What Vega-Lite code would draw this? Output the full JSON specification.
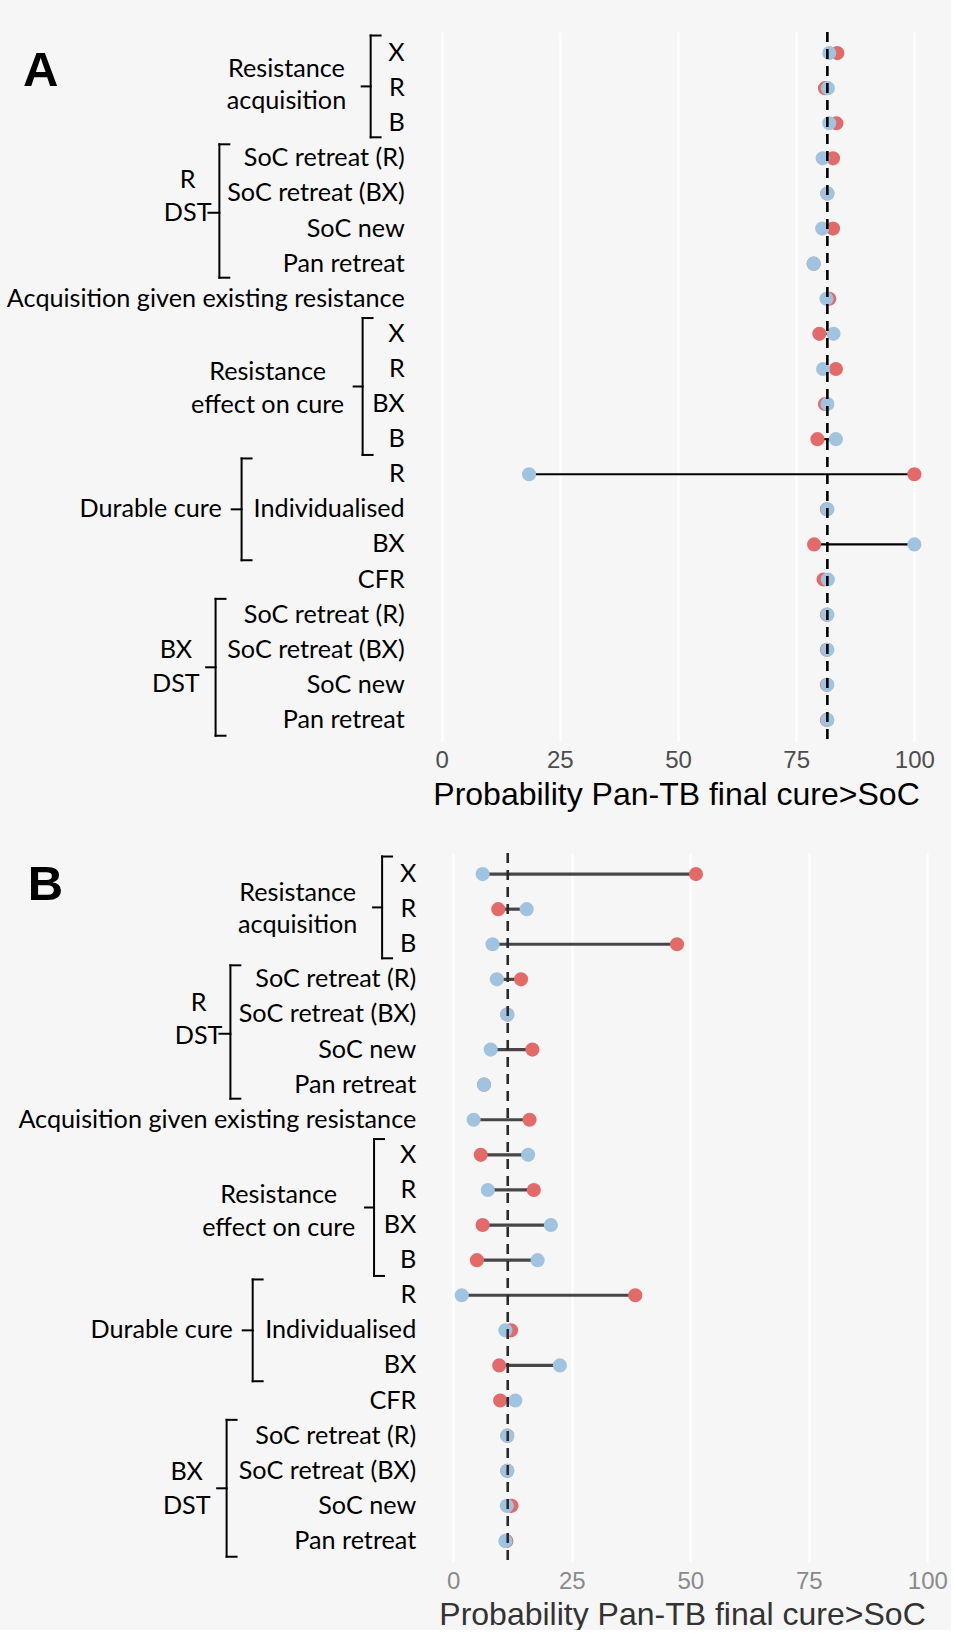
{
  "$schema": "https://vega.github.io/schema/vega-lite/v6.json",
  "background": "#f6f6f6",
  "padding": {"left": 0, "top": 30, "right": 0, "bottom": 0},
  "bounds": "flush",
  "spacing": 112,
  "config": {
    "view": {"stroke": null},
    "text": {"font": "Lato", "fontSize": 25.2, "color": "#000000"},
    "rule": {"color": "#000000", "strokeWidth": 2, "strokeCap": "square"}
  },
  "datasets": {
    "panelA": [
      {"order": 1, "label": "X", "red": 83.7, "blue": 82.0},
      {"order": 2, "label": "R", "red": 81.1, "blue": 81.7},
      {"order": 3, "label": "B", "red": 83.5, "blue": 82.0},
      {"order": 4, "label": "SoC retreat (R)", "red": 82.8, "blue": 80.6},
      {"order": 5, "label": "SoC retreat (BX)", "red": 81.6, "blue": 81.6},
      {"order": 6, "label": "SoC new", "red": 82.8, "blue": 80.5},
      {"order": 7, "label": "Pan retreat", "red": 78.7, "blue": 78.7},
      {"order": 8, "label": "Acquisition given existing resistance", "red": 82.0, "blue": 81.4},
      {"order": 9, "label": "X", "red": 79.9, "blue": 82.9},
      {"order": 10, "label": "R", "red": 83.4, "blue": 80.7},
      {"order": 11, "label": "BX", "red": 81.1, "blue": 81.6},
      {"order": 12, "label": "B", "red": 79.5, "blue": 83.4},
      {"order": 13, "label": "R", "red": 100, "blue": 18.5},
      {"order": 14, "label": "Individualised", "red": 81.5, "blue": 81.6},
      {"order": 15, "label": "BX", "red": 78.8, "blue": 100},
      {"order": 16, "label": "CFR", "red": 80.8, "blue": 81.7},
      {"order": 17, "label": "SoC retreat (R)", "red": 81.5, "blue": 81.6},
      {"order": 18, "label": "SoC retreat (BX)", "red": 81.5, "blue": 81.6},
      {"order": 19, "label": "SoC new", "red": 81.5, "blue": 81.6},
      {"order": 20, "label": "Pan retreat", "red": 81.5, "blue": 81.6}
    ],
    "panelB": [
      {"order": 1, "label": "X", "red": 51.2, "blue": 6.2},
      {"order": 2, "label": "R", "red": 9.5, "blue": 15.5},
      {"order": 3, "label": "B", "red": 47.2, "blue": 8.3},
      {"order": 4, "label": "SoC retreat (R)", "red": 14.3, "blue": 9.2},
      {"order": 5, "label": "SoC retreat (BX)", "red": 11.4, "blue": 11.4},
      {"order": 6, "label": "SoC new", "red": 16.7, "blue": 7.9},
      {"order": 7, "label": "Pan retreat", "red": 6.5, "blue": 6.5},
      {"order": 8, "label": "Acquisition given existing resistance", "red": 16.1, "blue": 4.3},
      {"order": 9, "label": "X", "red": 5.8, "blue": 15.8},
      {"order": 10, "label": "R", "red": 17.0, "blue": 7.3},
      {"order": 11, "label": "BX", "red": 6.2, "blue": 20.6},
      {"order": 12, "label": "B", "red": 5.0, "blue": 17.8},
      {"order": 13, "label": "R", "red": 38.4, "blue": 1.8},
      {"order": 14, "label": "Individualised", "red": 12.2, "blue": 11.0},
      {"order": 15, "label": "BX", "red": 9.7, "blue": 22.5},
      {"order": 16, "label": "CFR", "red": 9.9, "blue": 13.1},
      {"order": 17, "label": "SoC retreat (R)", "red": 11.4, "blue": 11.4},
      {"order": 18, "label": "SoC retreat (BX)", "red": 11.4, "blue": 11.4},
      {"order": 19, "label": "SoC new", "red": 12.3, "blue": 11.3},
      {"order": 20, "label": "Pan retreat", "red": 11.2, "blue": 11.0}
    ]
  },
  "vconcat": [
    {
      "width": 938,
      "height": 709,
      "data": {"name": "panelA"},
      "layer": [
        {
          "mark": {"type": "rule", "color": "#000000", "strokeWidth": 2.2, "strokeCap": "butt"},
          "encoding": {
            "x": {"field": "red", "type": "quantitative",
              "scale": {"domain": [-93.4, 105], "nice": false, "zero": false},
              "axis": {"values": [0, 25, 50, 75, 100], "grid": true, "gridColor": "#ffffff", "gridWidth": 2,
                "domain": false, "ticks": false, "labelFont": "Liberation Sans", "labelFontSize": 24,
                "labelColor": "#4d4d4d", "labelPadding": 7, "title": "Probability Pan-TB final cure>SoC",
                "titleFont": "Liberation Sans", "titleFontSize": 32, "titleFontWeight": "normal",
                "titleColor": "#000000", "titlePadding": 7, "titleX": 676}},
            "x2": {"field": "blue"},
            "y": {"field": "order", "type": "quantitative",
              "scale": {"domain": [0.4, 20.6], "reverse": true, "nice": false, "zero": false}, "axis": null}
          }
        },
        {
          "transform": [{"fold": ["red", "blue"], "as": ["series", "value"]}],
          "mark": {"type": "circle", "size": 200, "opacity": 1},
          "encoding": {
            "x": {"field": "value", "type": "quantitative"},
            "y": {"field": "order", "type": "quantitative"},
            "color": {"field": "series", "type": "nominal",
              "scale": {"domain": ["red", "blue"], "range": ["#e46a6a", "#a0c4e0"]}, "legend": null}
          }
        },
        {
          "data": {"values": [{}]},
          "mark": {"type": "rule", "color": "#000000", "strokeWidth": 2.6, "strokeDash": [10, 7], "strokeCap": "butt"},
          "encoding": {"x": {"datum": 81.6}}
        },
        {
          "mark": {"type": "text", "align": "right", "baseline": "middle"},
          "encoding": {"x": {"datum": -7.8}, "y": {"field": "order", "type": "quantitative"}, "text": {"field": "label"}}
        },
        {"data": {"values": [{}]}, "mark": {"type": "text", "font": "Liberation Sans", "fontWeight": "bold", "fontSize": 49, "align": "center", "baseline": "middle"},
          "encoding": {"x": {"datum": -84.8}, "y": {"datum": 1.5}, "text": {"value": "A"}}},
        {"data": {"values": [{}]}, "mark": {"type": "text", "align": "center", "baseline": "middle", "lineHeight": 32},
          "encoding": {"x": {"datum": -32.8}, "y": {"datum": 1.45}, "text": {"value": ["Resistance", "acquisition"]}}},
        {"data": {"values": [{}]}, "mark": {"type": "text", "align": "center", "baseline": "middle", "lineHeight": 33},
          "encoding": {"x": {"datum": -53.7}, "y": {"datum": 4.62}, "text": {"value": ["R", "DST"]}}},
        {"data": {"values": [{}]}, "mark": {"type": "text", "align": "center", "baseline": "middle", "lineHeight": 33},
          "encoding": {"x": {"datum": -36.8}, "y": {"datum": 10.08}, "text": {"value": ["Resistance", "effect on cure"]}}},
        {"data": {"values": [{}]}, "mark": {"type": "text", "align": "right", "baseline": "middle"},
          "encoding": {"x": {"datum": -46.5}, "y": {"datum": 14}, "text": {"value": "Durable cure"}}},
        {"data": {"values": [{}]}, "mark": {"type": "text", "align": "center", "baseline": "middle", "lineHeight": 34},
          "encoding": {"x": {"datum": -56.2}, "y": {"datum": 18.0}, "text": {"value": ["BX", "DST"]}}},

        {"data": {"values": [{}]}, "mark": "rule", "encoding": {"x": {"datum": -15}, "y": {"datum": 0.5}, "y2": {"datum": 3.4}}},
        {"data": {"values": [{}]}, "mark": "rule", "encoding": {"x": {"datum": -15}, "x2": {"datum": -12.9}, "y": {"datum": 0.5}}},
        {"data": {"values": [{}]}, "mark": "rule", "encoding": {"x": {"datum": -15}, "x2": {"datum": -12.9}, "y": {"datum": 3.4}}},
        {"data": {"values": [{}]}, "mark": "rule", "encoding": {"x": {"datum": -15}, "x2": {"datum": -16.9}, "y": {"datum": 1.95}}},

        {"data": {"values": [{}]}, "mark": "rule", "encoding": {"x": {"datum": -47}, "y": {"datum": 3.6}, "y2": {"datum": 7.4}}},
        {"data": {"values": [{}]}, "mark": "rule", "encoding": {"x": {"datum": -47}, "x2": {"datum": -44.9}, "y": {"datum": 3.6}}},
        {"data": {"values": [{}]}, "mark": "rule", "encoding": {"x": {"datum": -47}, "x2": {"datum": -44.9}, "y": {"datum": 7.4}}},
        {"data": {"values": [{}]}, "mark": "rule", "encoding": {"x": {"datum": -47}, "x2": {"datum": -49.3}, "y": {"datum": 5.55}}},

        {"data": {"values": [{}]}, "mark": "rule", "encoding": {"x": {"datum": -16.7}, "y": {"datum": 8.55}, "y2": {"datum": 12.45}}},
        {"data": {"values": [{}]}, "mark": "rule", "encoding": {"x": {"datum": -16.7}, "x2": {"datum": -14.6}, "y": {"datum": 8.55}}},
        {"data": {"values": [{}]}, "mark": "rule", "encoding": {"x": {"datum": -16.7}, "x2": {"datum": -14.6}, "y": {"datum": 12.45}}},
        {"data": {"values": [{}]}, "mark": "rule", "encoding": {"x": {"datum": -16.7}, "x2": {"datum": -18.6}, "y": {"datum": 10.5}}},

        {"data": {"values": [{}]}, "mark": "rule", "encoding": {"x": {"datum": -42.3}, "y": {"datum": 12.55}, "y2": {"datum": 15.45}}},
        {"data": {"values": [{}]}, "mark": "rule", "encoding": {"x": {"datum": -42.3}, "x2": {"datum": -40.2}, "y": {"datum": 12.55}}},
        {"data": {"values": [{}]}, "mark": "rule", "encoding": {"x": {"datum": -42.3}, "x2": {"datum": -40.2}, "y": {"datum": 15.45}}},
        {"data": {"values": [{}]}, "mark": "rule", "encoding": {"x": {"datum": -42.3}, "x2": {"datum": -44.4}, "y": {"datum": 14}}},

        {"data": {"values": [{}]}, "mark": "rule", "encoding": {"x": {"datum": -47.8}, "y": {"datum": 16.55}, "y2": {"datum": 20.45}}},
        {"data": {"values": [{}]}, "mark": "rule", "encoding": {"x": {"datum": -47.8}, "x2": {"datum": -45.7}, "y": {"datum": 16.55}}},
        {"data": {"values": [{}]}, "mark": "rule", "encoding": {"x": {"datum": -47.8}, "x2": {"datum": -45.7}, "y": {"datum": 20.45}}},
        {"data": {"values": [{}]}, "mark": "rule", "encoding": {"x": {"datum": -47.8}, "x2": {"datum": -49.8}, "y": {"datum": 18.5}}}
      ]
    },
    {
      "width": 951,
      "height": 709,
      "data": {"name": "panelB"},
      "layer": [
        {
          "mark": {"type": "rule", "color": "#474747", "strokeWidth": 3.2, "strokeCap": "butt"},
          "encoding": {
            "x": {"field": "red", "type": "quantitative",
              "scale": {"domain": [-95.6, 105], "nice": false, "zero": false},
              "axis": {"values": [0, 25, 50, 75, 100], "grid": true, "gridColor": "#ffffff", "gridWidth": 2,
                "domain": false, "ticks": false, "labelFont": "Liberation Sans", "labelFontSize": 24,
                "labelColor": "#8a8a8a", "labelPadding": 7, "title": "Probability Pan-TB final cure>SoC",
                "titleFont": "Liberation Sans", "titleFontSize": 32, "titleFontWeight": "normal",
                "titleColor": "#333333", "titlePadding": 6, "titleX": 682}},
            "x2": {"field": "blue"},
            "y": {"field": "order", "type": "quantitative",
              "scale": {"domain": [0.4, 20.6], "reverse": true, "nice": false, "zero": false}, "axis": null}
          }
        },
        {
          "transform": [{"fold": ["red", "blue"], "as": ["series", "value"]}],
          "mark": {"type": "circle", "size": 200, "opacity": 1},
          "encoding": {
            "x": {"field": "value", "type": "quantitative"},
            "y": {"field": "order", "type": "quantitative"},
            "color": {"field": "series", "type": "nominal",
              "scale": {"domain": ["red", "blue"], "range": ["#e46a6a", "#a0c4e0"]}, "legend": null}
          }
        },
        {
          "data": {"values": [{}]},
          "mark": {"type": "rule", "color": "#2a2a2a", "strokeWidth": 2.6, "strokeDash": [10, 7], "strokeCap": "butt"},
          "encoding": {"x": {"datum": 11.5}}
        },
        {
          "mark": {"type": "text", "align": "right", "baseline": "middle"},
          "encoding": {"x": {"datum": -7.8}, "y": {"field": "order", "type": "quantitative"}, "text": {"field": "label"}}
        },
        {"data": {"values": [{}]}, "mark": {"type": "text", "font": "Liberation Sans", "fontWeight": "bold", "fontSize": 49, "align": "center", "baseline": "middle"},
          "encoding": {"x": {"datum": -86}, "y": {"datum": 1.31}, "text": {"value": "B"}}},
        {"data": {"values": [{}]}, "mark": {"type": "text", "align": "center", "baseline": "middle", "lineHeight": 32},
          "encoding": {"x": {"datum": -32.8}, "y": {"datum": 1.55}, "text": {"value": ["Resistance", "acquisition"]}}},
        {"data": {"values": [{}]}, "mark": {"type": "text", "align": "center", "baseline": "middle", "lineHeight": 33},
          "encoding": {"x": {"datum": -53.7}, "y": {"datum": 4.68}, "text": {"value": ["R", "DST"]}}},
        {"data": {"values": [{}]}, "mark": {"type": "text", "align": "center", "baseline": "middle", "lineHeight": 33},
          "encoding": {"x": {"datum": -36.8}, "y": {"datum": 10.15}, "text": {"value": ["Resistance", "effect on cure"]}}},
        {"data": {"values": [{}]}, "mark": {"type": "text", "align": "right", "baseline": "middle"},
          "encoding": {"x": {"datum": -46.5}, "y": {"datum": 14}, "text": {"value": "Durable cure"}}},
        {"data": {"values": [{}]}, "mark": {"type": "text", "align": "center", "baseline": "middle", "lineHeight": 34},
          "encoding": {"x": {"datum": -56.2}, "y": {"datum": 18.05}, "text": {"value": ["BX", "DST"]}}},

        {"data": {"values": [{}]}, "mark": "rule", "encoding": {"x": {"datum": -15}, "y": {"datum": 0.5}, "y2": {"datum": 3.4}}},
        {"data": {"values": [{}]}, "mark": "rule", "encoding": {"x": {"datum": -15}, "x2": {"datum": -12.9}, "y": {"datum": 0.5}}},
        {"data": {"values": [{}]}, "mark": "rule", "encoding": {"x": {"datum": -15}, "x2": {"datum": -12.9}, "y": {"datum": 3.4}}},
        {"data": {"values": [{}]}, "mark": "rule", "encoding": {"x": {"datum": -15}, "x2": {"datum": -16.9}, "y": {"datum": 1.95}}},

        {"data": {"values": [{}]}, "mark": "rule", "encoding": {"x": {"datum": -47}, "y": {"datum": 3.6}, "y2": {"datum": 7.4}}},
        {"data": {"values": [{}]}, "mark": "rule", "encoding": {"x": {"datum": -47}, "x2": {"datum": -44.9}, "y": {"datum": 3.6}}},
        {"data": {"values": [{}]}, "mark": "rule", "encoding": {"x": {"datum": -47}, "x2": {"datum": -44.9}, "y": {"datum": 7.4}}},
        {"data": {"values": [{}]}, "mark": "rule", "encoding": {"x": {"datum": -47}, "x2": {"datum": -49.3}, "y": {"datum": 5.55}}},

        {"data": {"values": [{}]}, "mark": "rule", "encoding": {"x": {"datum": -16.7}, "y": {"datum": 8.55}, "y2": {"datum": 12.45}}},
        {"data": {"values": [{}]}, "mark": "rule", "encoding": {"x": {"datum": -16.7}, "x2": {"datum": -14.6}, "y": {"datum": 8.55}}},
        {"data": {"values": [{}]}, "mark": "rule", "encoding": {"x": {"datum": -16.7}, "x2": {"datum": -14.6}, "y": {"datum": 12.45}}},
        {"data": {"values": [{}]}, "mark": "rule", "encoding": {"x": {"datum": -16.7}, "x2": {"datum": -18.6}, "y": {"datum": 10.5}}},

        {"data": {"values": [{}]}, "mark": "rule", "encoding": {"x": {"datum": -42.3}, "y": {"datum": 12.55}, "y2": {"datum": 15.45}}},
        {"data": {"values": [{}]}, "mark": "rule", "encoding": {"x": {"datum": -42.3}, "x2": {"datum": -40.2}, "y": {"datum": 12.55}}},
        {"data": {"values": [{}]}, "mark": "rule", "encoding": {"x": {"datum": -42.3}, "x2": {"datum": -40.2}, "y": {"datum": 15.45}}},
        {"data": {"values": [{}]}, "mark": "rule", "encoding": {"x": {"datum": -42.3}, "x2": {"datum": -44.4}, "y": {"datum": 14}}},

        {"data": {"values": [{}]}, "mark": "rule", "encoding": {"x": {"datum": -47.8}, "y": {"datum": 16.55}, "y2": {"datum": 20.45}}},
        {"data": {"values": [{}]}, "mark": "rule", "encoding": {"x": {"datum": -47.8}, "x2": {"datum": -45.7}, "y": {"datum": 16.55}}},
        {"data": {"values": [{}]}, "mark": "rule", "encoding": {"x": {"datum": -47.8}, "x2": {"datum": -45.7}, "y": {"datum": 20.45}}},
        {"data": {"values": [{}]}, "mark": "rule", "encoding": {"x": {"datum": -47.8}, "x2": {"datum": -49.8}, "y": {"datum": 18.5}}}
      ]
    }
  ]
}
